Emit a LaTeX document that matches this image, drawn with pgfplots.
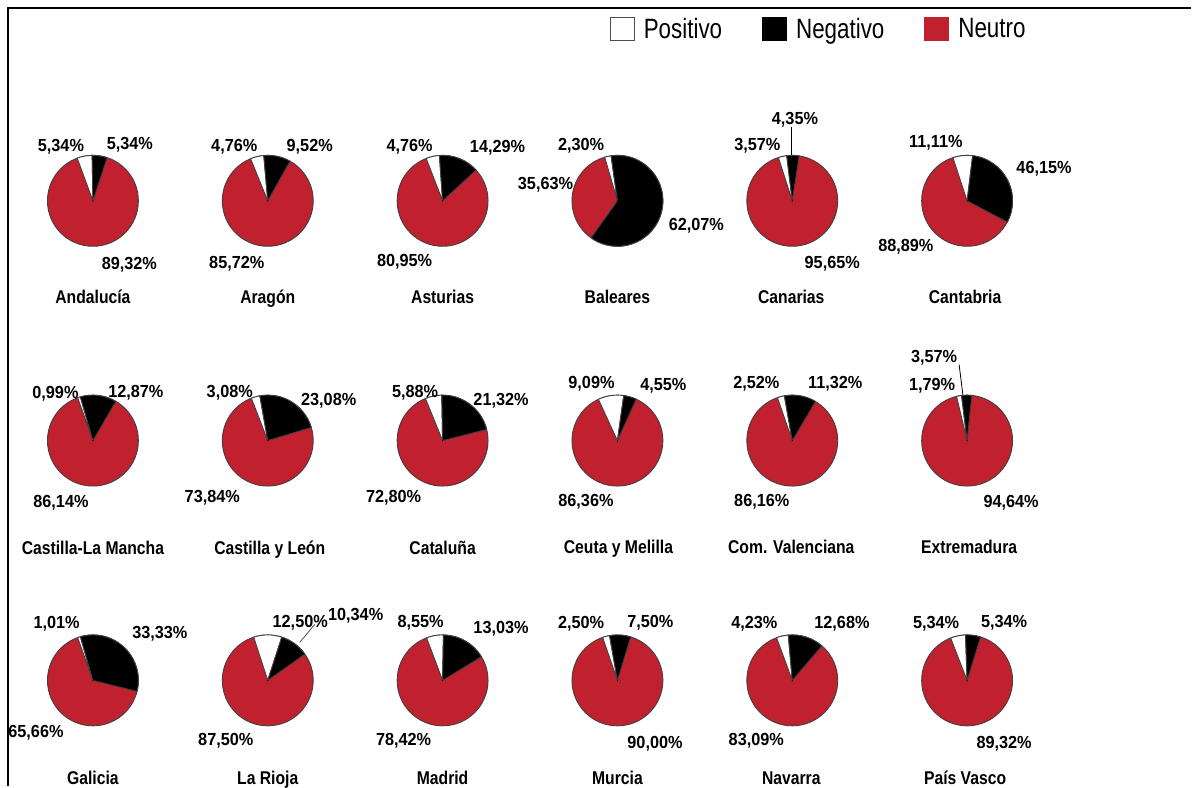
\documentclass[border=0pt]{standalone}
\usepackage{fontspec}
\setmainfont{Liberation Sans}
\newfontfamily\pctfont{Liberation Sans}[FakeStretch=0.93]
\newfontfamily\namefont{Liberation Sans}[FakeStretch=0.85]
\newfontfamily\legfont{Liberation Sans}[FakeStretch=0.8]
\usepackage{pgfplots}
\usepackage{pgfplotstable}
\pgfplotsset{compat=1.18}
\definecolor{neutro}{RGB}{193,32,46}

% one pie per region: centre (px), start angle of the white/black cut, Positivo %, Negativo %
\pgfplotstableread{
cx cy b w k
93 201 91 5.34 5.34
268 201 95 4.76 9.52
443 201 94 4.76 14.29
618 201 98 2.30 62.07
793 201 97 3.00 4.35
968 201 83 7.00 30.80
93 441 106 0.99 12.87
268 441 100 3.08 23.08
443 441 91 5.88 21.32
618 441 82 9.09 4.55
793 441 100 2.52 11.32
968 441 97 1.79 3.57
93 681 106 1.01 33.33
268 681 72 10.00 10.20
443 681 89 6.00 16.00
618 681 100 2.50 7.50
793 681 95 4.23 12.68
968 681 92 5.34 5.34
}\pies

% printed percentages
\pgfplotstableread{
x y v
61 145 5.34
130 143 5.34
129.5 263 89.32
234.5 145 4.76
310 145 9.52
237 262 85.72
410 145 4.76
498 146 14.29
405 260 80.95
581.6 144 2.30
546 183 35.63
697 224 62.07
758 144 3.57
795.7 118 4.35
833 262 95.65
936.7 141 11.11
1045 167 46.15
906.7 245 88.89
55.5 393 0.99
136 392 12.87
61 502 86.14
230 392 3.08
329 400 23.08
212.5 497 73.84
415.5 392 5.88
501.5 400 21.32
394 497 72.80
592 383 9.09
664 385 4.55
586.5 501 86.36
757 383 2.52
836 383 11.32
762.5 501 86.16
935 357 3.57
933 385 1.79
1012 502 94.64
56.7 623 1.01
160 633 33.33
36 732 65.66
300.5 622 12.50
356 615 10.34
226 740 87.50
421 622 8.55
501.5 628 13.03
404 740 78.42
581.6 623 2.50
651 622 7.50
655.6 743 90.00
755 623 4.23
842.7 623 12.68
757 740 83.09
937 623 5.34
1005 622 5.34
1005 743 89.32
}\pcts

\pgfplotstableread{
x y name
93 297 Andalucía
268 297 Aragón
443 297 Asturias
618 297 Baleares
792 297 Canarias
966 297 Cantabria
93 548 Castilla-La\ Mancha
270 548 {Castilla y León}
443 548 Cataluña
619 547 {Ceuta y Melilla}
792 547 {Com. Valenciana}
970 547 Extremadura
93 778 Galicia
268 778 {La Rioja}
443 778 Madrid
618 778 Murcia
792 778 Navarra
966 778 {País Vasco}
}\names

\begin{document}
\begin{tikzpicture}
\begin{axis}[
  hide axis,
  scale only axis,
  width=596pt, height=393.5pt,
  xmin=0, xmax=1192, ymin=0, ymax=787,
  y dir=reverse,
  clip=false,
  legend columns=3,
  legend image code/.code={\draw[#1] (0pt,-5.75pt) rectangle (12pt,5.75pt);},
  legend style={at={(axis cs:604,29.5)}, anchor=west, draw=none, fill=none,
    font=\legfont\fontsize{14}{16}\selectfont,
    /tikz/every odd column/.append style={column sep=2.5pt},
    /tikz/every even column/.append style={column sep=18pt}},
]
\path (axis cs:0,0) rectangle (axis cs:1192,787);
\draw[line width=1.1pt] (axis cs:8,787) -- (axis cs:8,8) -- (axis cs:1192,8);

\addlegendimage{fill=white, draw=black!70, line width=0.5pt}
\addlegendentry{Positivo}
\addlegendimage{fill=black, draw=black, line width=0.5pt}
\addlegendentry{Negativo}
\addlegendimage{fill=neutro, draw=neutro, line width=0.5pt}
\addlegendentry{Neutro}

\addplot[scatter, only marks, mark=*, mark size=0.01pt,
  mark options={draw=none, fill=none},
  visualization depends on={\thisrow{b} \as \pb},
  visualization depends on={\thisrow{w} \as \pw},
  visualization depends on={\thisrow{k} \as \pk},
  scatter/@pre marker code/.code={
    \filldraw[fill=neutro, draw=black!75, line width=0.45pt] (0,0) circle[radius=22.75pt];
    \filldraw[fill=white, draw=black!75, line width=0.45pt] (0,0) -- ({\pb}:22.75pt)
      arc[start angle={\pb}, delta angle={3.6*\pw}, radius=22.75pt] -- cycle;
    \filldraw[fill=black, draw=black!75, line width=0.45pt] (0,0) -- ({\pb}:22.75pt)
      arc[start angle={\pb}, delta angle={-3.6*\pk}, radius=22.75pt] -- cycle;
  },
  scatter/@post marker code/.code={},
  forget plot,
] table[x=cx, y=cy] {\pies};

% leader lines
\addplot[black, line width=0.4pt, forget plot] coordinates {(792.4,127) (792.4,157)};
\addplot[black, line width=0.4pt, forget plot] coordinates {(960,365) (964,397)};
\addplot[black!70, line width=0.4pt, forget plot] coordinates {(315,625) (300,643)};

\addplot[only marks, mark=none, forget plot,
  point meta=explicit,
  nodes near coords={\pgfmathprintnumber[fixed, fixed zerofill, precision=2, use comma, assume math mode=true]{\pgfplotspointmeta}\%},
  nodes near coords align=center,
  every node near coord/.append style={text=black, inner sep=0pt,
    text height=6.25pt, text depth=0pt,
    font=\pctfont\bfseries\fontsize{8.75}{10}\selectfont},
] table[x=x, y=y, meta=v] {\pcts};

\addplot[only marks, mark=none, forget plot,
  point meta=explicit symbolic,
  nodes near coords={\pgfplotspointmeta},
  nodes near coords align=center,
  every node near coord/.append style={text=black, inner sep=0pt,
    text height=6.75pt, text depth=0pt,
    font=\namefont\bfseries\fontsize{9.25}{11}\selectfont},
] table[x=x, y=y, meta=name] {\names};
\end{axis}
\end{tikzpicture}
\end{document}
